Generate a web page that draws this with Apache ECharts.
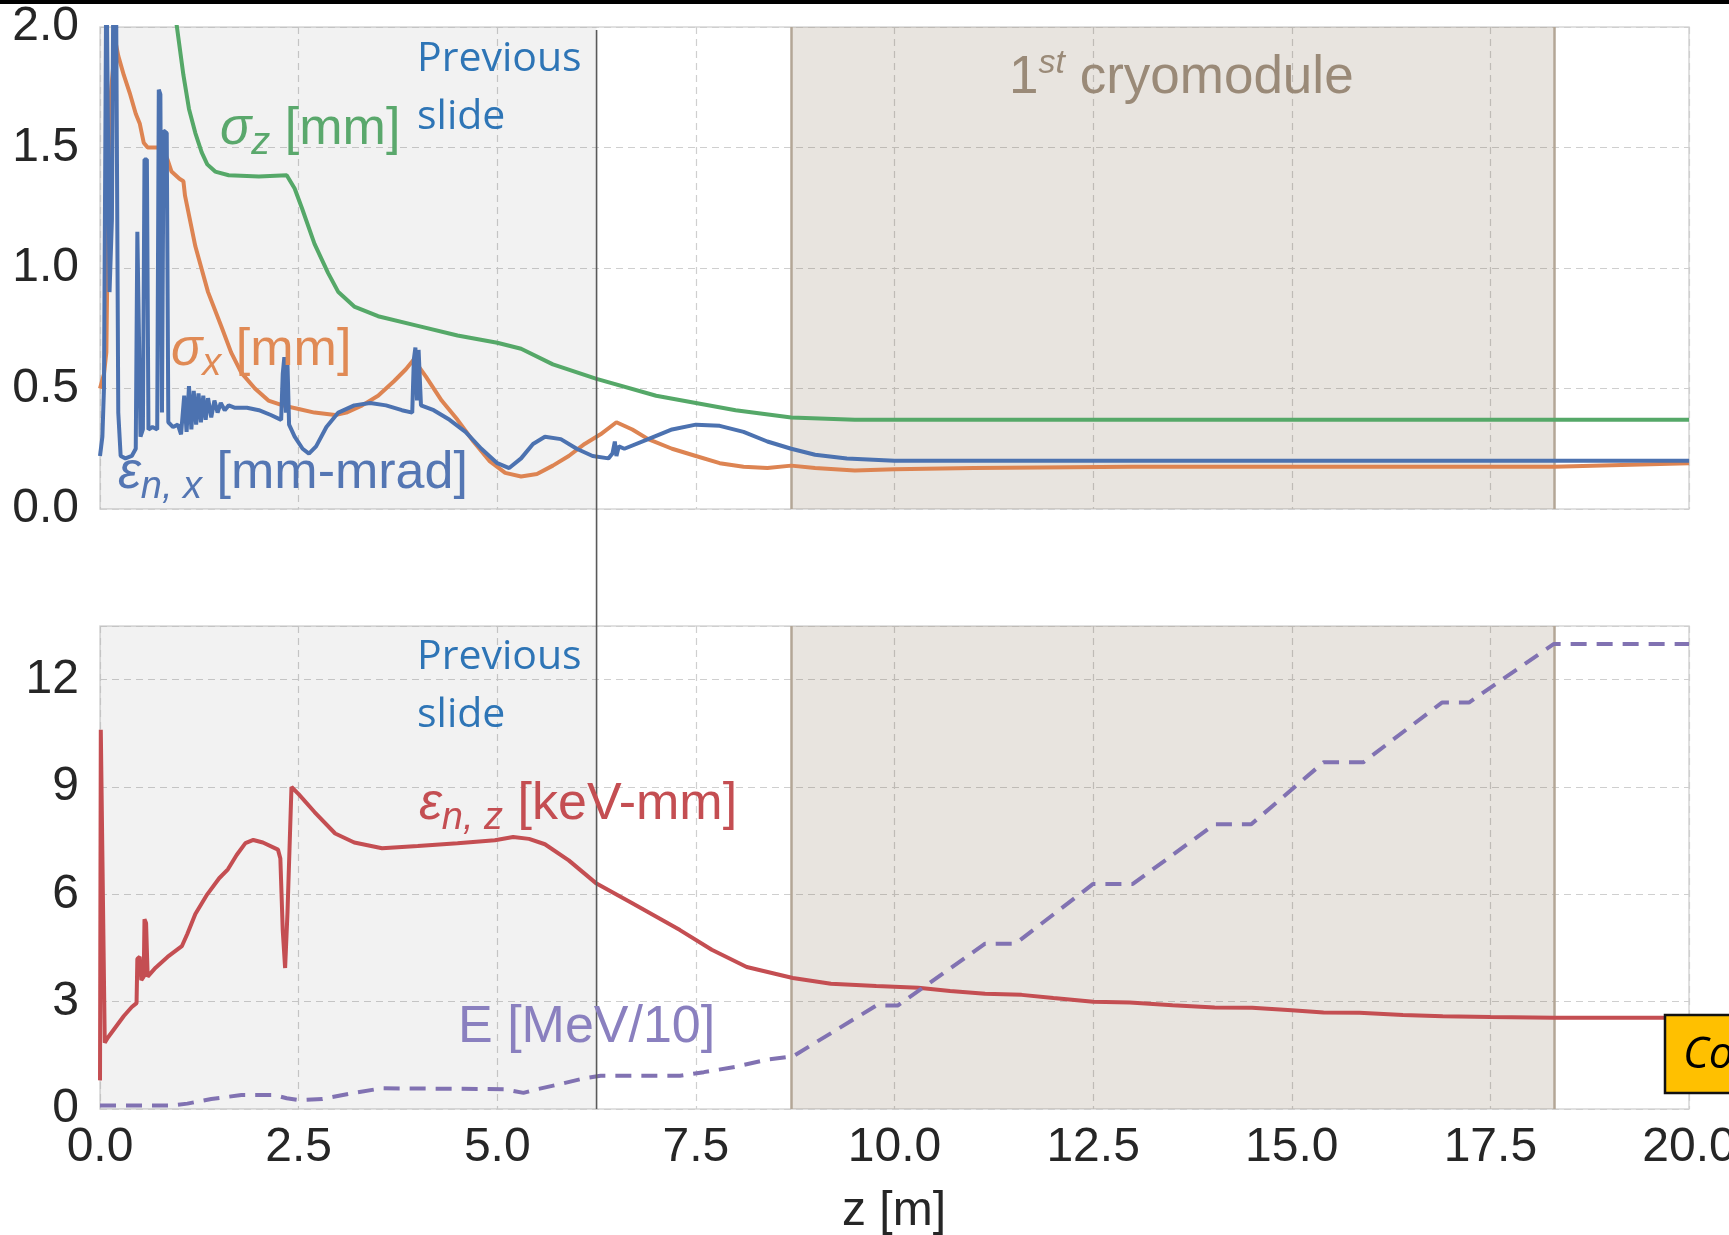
<!DOCTYPE html>
<html>
<head>
<meta charset="utf-8">
<script src="https://cdn.jsdelivr.net/npm/echarts@6.0.0/dist/echarts.min.js"></script>
<style>
html, body { margin: 0; padding: 0; background: #fff; }
#chart { width: 1729px; height: 1235px; }
</style>
</head>
<body>
<div id="chart"></div>
<script>
// axes
var zMin = 0, zMax = 20, zStep = 2.5;
var topTicks = [0, 0.5, 1.0, 1.5, 2.0];
var bottomTicks = [0, 3, 6, 9, 12];
var bottomMax = 13.5;

// zones along z [m]
var previousSlideZ = 6.25;
var grayZone = [0, 6.25];
var cryoZone = [8.7, 18.3];

// top panel: sigma_z [mm]
var sigmaZ = [[0.90,2.30],[0.96,2.02],[1.05,1.80],[1.12,1.66],[1.20,1.56],[1.28,1.48],[1.35,1.43],[1.45,1.40],
  [1.62,1.385],[2.00,1.38],[2.35,1.385],[2.45,1.33],[2.54,1.25],[2.70,1.10],[2.87,0.98],[3.00,0.90],[3.20,0.84],
  [3.50,0.80],[4.00,0.76],[4.50,0.72],[5.00,0.69],[5.30,0.665],[5.70,0.60],[6.25,0.54],[7.00,0.47],[7.50,0.44],
  [8.00,0.41],[8.70,0.38],[9.50,0.37],[12.0,0.37],[15.0,0.37],[20.0,0.37]];

// top panel: sigma_x [mm]
var sigmaX = [[0.00,0.50],[0.05,0.56],[0.08,0.65],[0.10,1.20],[0.13,1.70],[0.17,1.85],[0.20,1.93],[0.23,1.88],
  [0.30,1.80],[0.38,1.72],[0.45,1.64],[0.50,1.60],[0.55,1.52],[0.60,1.50],[0.70,1.50],[0.78,1.50],[0.85,1.45],
  [0.90,1.40],[1.00,1.37],[1.05,1.36],[1.07,1.30],[1.20,1.09],[1.36,0.90],[1.53,0.755],[1.65,0.65],[1.78,0.565],
  [1.95,0.50],[2.12,0.45],[2.30,0.43],[2.50,0.415],[2.70,0.40],[2.96,0.39],[3.10,0.40],[3.30,0.43],[3.50,0.47],
  [3.70,0.53],[3.85,0.58],[3.95,0.62],[4.10,0.55],[4.30,0.45],[4.50,0.37],[4.70,0.28],[4.90,0.20],[5.10,0.15],
  [5.30,0.135],[5.50,0.145],[5.70,0.18],[5.90,0.22],[6.10,0.27],[6.30,0.31],[6.50,0.36],[6.70,0.33],[6.90,0.29],
  [7.20,0.25],[7.50,0.22],[7.80,0.19],[8.10,0.175],[8.40,0.17],[8.70,0.18],[9.00,0.17],[9.50,0.16],[10.0,0.165],
  [11.0,0.17],[13.0,0.175],[15.0,0.175],[17.0,0.175],[18.3,0.175],[20.0,0.19]];

// top panel: eps_n,x [mm-mrad]
var emitX = [[0.00,0.22],[0.03,0.30],[0.05,0.50],[0.08,2.30],[0.10,2.30],[0.12,0.90],[0.15,1.20],[0.17,2.30],
  [0.20,2.30],[0.23,0.40],[0.26,0.22],[0.32,0.21],[0.40,0.22],[0.45,0.25],[0.47,1.15],[0.49,1.15],[0.51,0.30],
  [0.54,0.33],[0.56,1.45],[0.59,1.45],[0.61,0.33],[0.66,0.34],[0.72,0.33],[0.74,1.74],[0.76,1.72],[0.78,0.40],
  [0.80,1.57],[0.84,1.56],[0.86,0.36],[0.92,0.34],[0.98,0.35],[1.02,0.31],[1.06,0.47],[1.09,0.32],[1.12,0.51],
  [1.15,0.33],[1.18,0.49],[1.21,0.35],[1.24,0.48],[1.27,0.36],[1.30,0.47],[1.33,0.37],[1.36,0.46],[1.40,0.38],
  [1.44,0.45],[1.48,0.40],[1.52,0.44],[1.57,0.41],[1.62,0.43],[1.70,0.42],[1.85,0.42],[2.00,0.41],[2.15,0.39],
  [2.28,0.37],[2.30,0.56],[2.32,0.63],[2.34,0.40],[2.36,0.60],[2.38,0.35],[2.45,0.30],[2.55,0.25],[2.63,0.23],
  [2.72,0.26],[2.85,0.34],[3.00,0.40],[3.20,0.43],[3.40,0.44],[3.60,0.43],[3.80,0.41],[3.93,0.40],[3.95,0.62],
  [3.97,0.67],[3.99,0.45],[4.01,0.66],[4.04,0.43],[4.20,0.41],[4.40,0.37],[4.60,0.32],[4.80,0.25],[5.00,0.19],
  [5.15,0.17],[5.30,0.21],[5.45,0.27],[5.60,0.30],[5.80,0.29],[6.00,0.25],[6.20,0.22],[6.40,0.21],[6.45,0.23],
  [6.48,0.28],[6.50,0.22],[6.53,0.26],[6.60,0.25],[6.90,0.29],[7.20,0.33],[7.50,0.35],[7.80,0.345],[8.10,0.32],
  [8.40,0.28],[8.70,0.25],[9.00,0.225],[9.40,0.21],[10.0,0.20],[12.0,0.20],[15.0,0.20],[18.0,0.20],[20.0,0.20]];

// bottom panel: eps_n,z [keV-mm]
var emitZ = [[0.00,0.80],[0.01,10.6],[0.03,10.6],[0.06,1.85],[0.10,2.00],[0.20,2.30],[0.30,2.60],[0.40,2.85],
  [0.46,2.96],[0.47,4.20],[0.50,4.25],[0.52,3.60],[0.55,3.70],[0.56,5.30],[0.58,5.20],[0.60,3.70],[0.70,3.95],
  [0.85,4.25],[1.03,4.55],[1.10,4.90],[1.20,5.45],[1.35,6.00],[1.50,6.45],[1.61,6.70],[1.72,7.10],[1.83,7.43],
  [1.93,7.52],[2.05,7.45],[2.24,7.25],[2.27,7.00],[2.30,5.00],[2.33,3.94],[2.36,5.50],[2.41,9.00],[2.50,8.80],
  [2.70,8.30],[2.96,7.70],[3.20,7.45],[3.55,7.29],[4.00,7.35],[4.50,7.43],[4.97,7.51],[5.20,7.60],[5.40,7.55],
  [5.60,7.40],[5.90,6.95],[6.25,6.30],[6.70,5.75],[7.30,5.00],[7.70,4.45],[8.14,3.97],[8.72,3.66],[9.20,3.50],
  [9.77,3.44],[10.3,3.39],[10.7,3.30],[11.14,3.22],[11.6,3.19],[12.0,3.10],[12.5,3.00],[12.96,2.98],[13.5,2.90],
  [14.03,2.84],[14.5,2.83],[15.0,2.76],[15.4,2.70],[15.85,2.69],[16.4,2.63],[16.9,2.59],[17.5,2.57],[18.3,2.55],
  [20.0,2.55]];

// bottom panel: E [MeV/10]
var energy = [[0.00,0.10],[0.90,0.10],[1.10,0.15],[1.40,0.28],[1.78,0.39],[2.20,0.39],[2.35,0.30],[2.50,0.25],
  [2.80,0.28],[3.20,0.45],[3.55,0.58],[4.80,0.56],[5.10,0.55],[5.33,0.45],[5.50,0.55],[5.80,0.70],[6.10,0.86],
  [6.30,0.93],[7.30,0.93],[7.60,1.03],[8.00,1.18],[8.40,1.38],[8.72,1.47],[9.77,2.89],[10.04,2.89],[11.14,4.62],
  [11.52,4.62],[12.5,6.29],[13.0,6.29],[14.03,7.96],[14.49,7.96],[15.4,9.69],[15.9,9.69],[16.89,11.36],
  [17.23,11.36],[18.3,13.0],[20.0,13.0]];

var tickFont = '"Liberation Sans", Arial, sans-serif';
var labelFont = '"Liberation Sans", Arial, sans-serif';
var tickColor = '#262626';
var gridLine = { show: true, lineStyle: { color: '#cfcfcf', width: 1.2, type: [7, 5] } };

function curve(data, color, grid, dashed) {
    return {
        type: 'line', data: data, xAxisIndex: grid, yAxisIndex: grid,
        showSymbol: false, symbol: 'none', z: 5, silent: true,
        lineStyle: { color: color, width: 4, type: dashed ? [16, 10] : 'solid' },
        itemStyle: { color: color }
    };
}

function zones(grid) {
    return {
        type: 'line', data: [], xAxisIndex: grid, yAxisIndex: grid, silent: true, z: 1,
        markArea: {
            silent: true,
            data: [
                [{ xAxis: grayZone[0], itemStyle: { color: 'rgba(0,0,0,0.05)' } }, { xAxis: grayZone[1] }],
                [{ xAxis: cryoZone[0], itemStyle: { color: 'rgba(102,75,42,0.15)' } }, { xAxis: cryoZone[1] }]
            ]
        },
        markLine: {
            silent: true, symbol: 'none', label: { show: false },
            lineStyle: { color: '#b3a696', width: 2.5, type: 'solid' },
            data: [{ xAxis: cryoZone[0] }, { xAxis: cryoZone[1] }]
        }
    };
}

function xAxis(grid, labels) {
    return {
        type: 'value', gridIndex: grid, min: zMin, max: zMax, interval: zStep,
        axisLine: { show: false }, axisTick: { show: false },
        axisLabel: {
            show: labels, margin: 15, fontSize: 48, fontFamily: tickFont, color: tickColor,
            formatter: function (v) { return v.toFixed(1); }
        },
        splitLine: gridLine
    };
}

var gridBase = { left: 100, width: 1589, show: true, borderColor: '#d6d6d6', borderWidth: 1.5,
    backgroundColor: 'transparent', containLabel: false, outerBoundsMode: 'none' };

var chart = echarts.init(document.getElementById('chart'));
chart.setOption({
    animation: false,
    backgroundColor: '#fff',
    grid: [
        Object.assign({ top: 27, height: 482 }, gridBase),
        Object.assign({ top: 626, height: 483 }, gridBase)
    ],
    xAxis: [xAxis(0, false), xAxis(1, true)],
    yAxis: [
        {
            type: 'value', gridIndex: 0, min: topTicks[0], max: topTicks[topTicks.length - 1], interval: 0.5,
            axisLine: { show: false }, axisTick: { show: false }, splitLine: gridLine,
            axisLabel: { margin: 21, fontSize: 48, fontFamily: tickFont, color: tickColor,
                formatter: function (v) { return v.toFixed(1); } }
        },
        {
            type: 'value', gridIndex: 1, min: bottomTicks[0], max: bottomMax, interval: 3,
            axisLine: { show: false }, axisTick: { show: false }, splitLine: gridLine,
            axisLabel: { margin: 21, fontSize: 48, fontFamily: tickFont, color: tickColor,
                formatter: function (v) { return bottomTicks.indexOf(v) >= 0 ? String(v) : ''; } }
        }
    ],
    series: [
        zones(0),
        zones(1),
        curve(sigmaZ, '#55a868', 0),
        curve(sigmaX, '#dd8452', 0),
        curve(emitX, '#4c72b0', 0),
        curve(emitZ, '#c44e52', 1),
        curve(energy, '#8172b2', 1, true)
    ]
});

// thin "previous slide" divider running through both panels
var pTop = chart.convertToPixel({ gridIndex: 0 }, [previousSlideZ, topTicks[topTicks.length - 1]]);
var pBot = chart.convertToPixel({ gridIndex: 1 }, [previousSlideZ, 0]);

function tag(x, y, text, color, rich) {
    var r = {};
    for (var k in rich) {
        r[k] = Object.assign({ fill: color, fontFamily: labelFont, fontSize: 52, verticalAlign: 'middle' }, rich[k]);
    }
    return { type: 'text', x: x, y: y, z: 50, silent: true,
        style: { text: text, fill: color, rich: r, verticalAlign: 'middle', font: '52px ' + labelFont } };
}

var subRich = {
    s: { fontStyle: 'italic' },
    b: { fontStyle: 'italic', fontSize: 38, padding: [26, 0, 0, 0] },
    n: {}
};

chart.setOption({
    graphic: [
        { type: 'rect', shape: { x: 0, y: 0, width: 1729, height: 4 }, style: { fill: '#000' }, z: 60 },
        { type: 'line', shape: { x1: pTop[0], y1: pTop[1] + 3, x2: pBot[0], y2: pBot[1] }, style: { stroke: '#5a5a5a', lineWidth: 1.6 }, z: 40 },
        { type: 'text', x: 417, y: 30, z: 50, style: { text: 'Previous\nslide', fill: '#2e75b6', font: '41px "Open Sans", "Noto Sans", sans-serif', lineHeight: 58, verticalAlign: 'top' } },
        { type: 'text', x: 417, y: 628, z: 50, style: { text: 'Previous\nslide', fill: '#2e75b6', font: '41px "Open Sans", "Noto Sans", sans-serif', lineHeight: 58, verticalAlign: 'top' } },
        {
            type: 'text', x: 1009, y: 78, z: 50,
            style: {
                text: '{a|1}{p|st}{a| cryomodule}', verticalAlign: 'middle',
                rich: {
                    a: { fill: '#9a8a78', fontFamily: tickFont, fontSize: 53, verticalAlign: 'middle' },
                    p: { fill: '#9a8a78', fontFamily: tickFont, fontSize: 34, fontStyle: 'italic', verticalAlign: 'middle', padding: [0, 0, 28, 0] }
                }
            }
        },
        tag(220, 130, '{s|σ}{b|z}{n| [mm]}', '#5aa86c', subRich),
        tag(171, 351, '{s|σ}{b|x}{n| [mm]}', '#e08a55', subRich),
        tag(118, 474, '{s|ε}{b|n, x}{n| [mm-mrad]}', '#5476b3', subRich),
        tag(419, 805, '{s|ε}{b|n, z}{n| [keV-mm]}', '#c44e52', subRich),
        tag(458, 1028, '{n|E [MeV/10]}', '#8a80bf', { n: {} }),
        { type: 'text', x: 894, y: 1212, z: 50, style: { text: 'z [m]', fill: tickColor, font: '48px ' + tickFont, align: 'center', verticalAlign: 'middle' } },
        { type: 'rect', shape: { x: 1665, y: 1015, width: 80, height: 78 }, style: { fill: '#ffc000', stroke: '#111', lineWidth: 2.5 }, z: 55 },
        { type: 'text', x: 1683, y: 1055, z: 56, style: { text: 'Co', fill: '#000', font: 'italic 44px "Open Sans", "Noto Sans", sans-serif', verticalAlign: 'middle' } }
    ]
});
</script>
</body>
</html>
